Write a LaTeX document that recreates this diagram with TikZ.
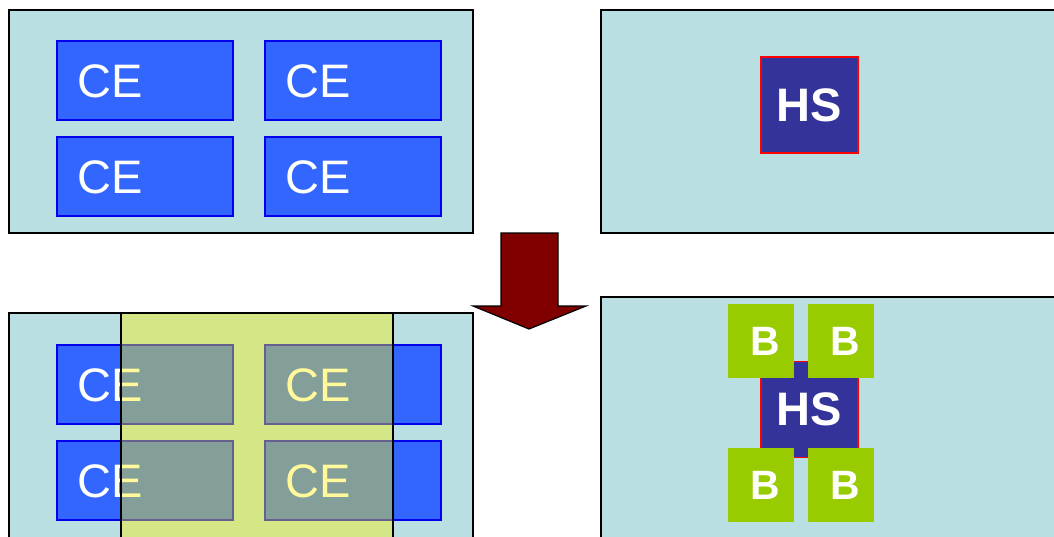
\documentclass[tikz,border=0pt]{standalone}
\usepackage{fontspec}
\setmainfont{Liberation Sans}
\definecolor{panelbg}{HTML}{BADFE2}
\definecolor{ceblue}{HTML}{3366FF}
\definecolor{ceedge}{HTML}{0000EE}
\definecolor{hsfill}{HTML}{333399}
\definecolor{bgreen}{HTML}{99CC00}
\definecolor{arrowred}{HTML}{800000}
\tikzset{
  panel/.style={draw=black, fill=panelbg, line width=1.3pt},
  cebox/.style={draw=ceedge, fill=ceblue, line width=1.2pt, minimum width=176pt, minimum height=79pt, inner sep=0pt},
  cetext/.style={anchor=west, text=white, inner sep=0pt, font=\fontsize{47}{48}\selectfont},
  hsbox/.style={draw=red, fill=hsfill, line width=1.3pt, minimum width=97pt, minimum height=96pt, inner sep=0pt, text=white, font=\bfseries\fontsize{47}{48}\selectfont},
  bbox/.style={fill=bgreen, minimum width=66pt, minimum height=74pt, inner sep=0pt},
  btext/.style={text=white, inner sep=0pt, font=\bfseries\fontsize{41}{42}\selectfont},
  overlay/.style={draw=black, line width=1.3pt, fill=yellow, fill opacity=0.4, draw opacity=1},
}
\begin{document}
\begin{tikzpicture}[x=1pt, y=-1pt]
\useasboundingbox (0,0) rectangle (1054,536);
\clip (0,0) rectangle (1054,536);
% top-left panel
\draw[panel] (9,10) rectangle (473,233);
\node[cebox] (ce1) at (145,80.5) {};
\node[cebox] (ce2) at (353,80.5) {};
\node[cebox] (ce3) at (145,176.5) {};
\node[cebox] (ce4) at (353,176.5) {};
\foreach \n in {1,2,3,4} \node[cetext] (ce\n t) at ([xshift=21pt,yshift=-1pt]ce\n.west) {CE};
% top-right panel
\draw[panel] (601,10) rectangle (1062,233);
\node[hsbox] (hs1) at (809.5,105) {HS};
% arrow
\draw[fill=arrowred, line width=1.2pt, line join=miter] (501,233) -- (558,233) -- (558,306) -- (586,306) -- (529,329) -- (473,306) -- (501,306) -- cycle;
% bottom-left panel
\draw[panel] (9,313) rectangle (473,545);
\node[cebox] (ce5) at (145,384.5) {};
\node[cebox] (ce6) at (353,384.5) {};
\node[cebox] (ce7) at (145,480.5) {};
\node[cebox] (ce8) at (353,480.5) {};
\foreach \n in {5,6,7,8} \node[cetext] (ce\n t) at ([xshift=21pt,yshift=-1pt]ce\n.west) {CE};
\draw[overlay] (121,313) rectangle (393,545);
% bottom-right panel
\draw[panel] (601,297) rectangle (1062,545);
\node[hsbox] (hs2) at (809.5,409.5) {HS};
\node[bbox] (b1) at (761,341) {};
\node[bbox] (b2) at (841,341) {};
\node[bbox] (b3) at (761,485) {};
\node[bbox] (b4) at (841,485) {};
\foreach \n in {1,2,3,4} \node[btext] (b\n t) at ([xshift=4pt]b\n.center) {B};
\end{tikzpicture}
\end{document}
